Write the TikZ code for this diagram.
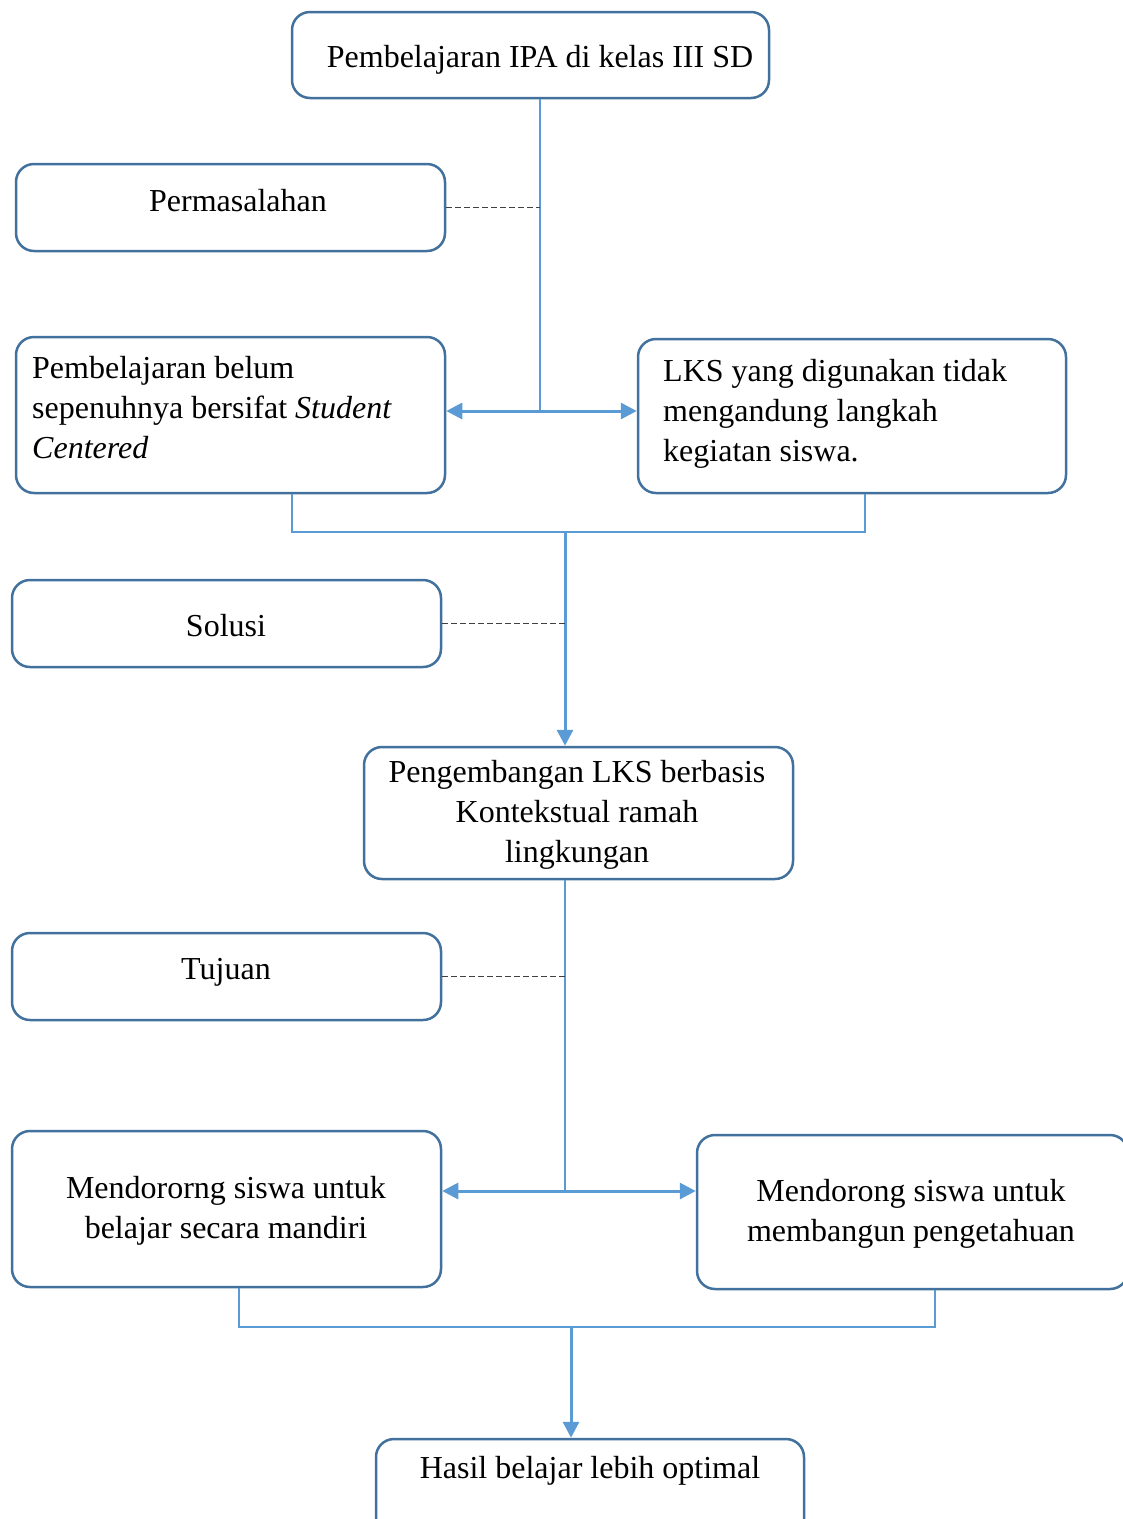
\documentclass[tikz,border=0pt]{standalone}
\usepackage{fontspec}
\setmainfont{Liberation Serif}
\usetikzlibrary{arrows.meta}
\definecolor{boxblue}{HTML}{41719C}
\definecolor{lineblue}{HTML}{5B9BD5}
\definecolor{dashgray}{HTML}{404040}
\tikzset{
  box/.style={draw=boxblue, line width=2.5pt, rounded corners=18pt, inner sep=0pt, fill=white},
  txt/.style={font=\fontsize{32}{40}\selectfont, inner sep=0pt},
  thinline/.style={draw=lineblue, line width=1.2pt},
  thickarrow/.style={draw=lineblue, line width=3pt, -{Triangle[length=16pt,width=16pt]}},
  dbarrow/.style={draw=lineblue, line width=3pt, {Triangle[length=16pt,width=16pt]}-{Triangle[length=16pt,width=16pt]}},
  dashline/.style={draw=dashgray, line width=1.2pt, dash pattern=on 6pt off 3pt}
}
\begin{document}
\begin{tikzpicture}[x=1pt,y=-1pt]
\useasboundingbox (0,0) rectangle (1123,1519);
\clip (0,0) rectangle (1123,1519);
% junction coordinates
\coordinate (j1) at (540,411);
\coordinate (b1) at (292,532);
\coordinate (b2) at (865,532);
\coordinate (j2) at (565,532);
\coordinate (j3) at (565,1191);
\coordinate (b3) at (239,1327);
\coordinate (b4) at (935,1327);
\coordinate (j4) at (571,1327);
% boxes
\node[box, minimum width=477pt, minimum height=86pt] (top) at (530.5,55) {};
\node[box, minimum width=429pt, minimum height=87pt] (perm) at (230.5,207.5) {};
\node[box, minimum width=429pt, minimum height=156pt] (belum) at (230.5,415) {};
\node[box, minimum width=428pt, minimum height=154pt] (lks) at (852,416) {};
\node[box, minimum width=429pt, minimum height=87pt] (solusi) at (226.5,623.5) {};
\node[box, minimum width=429pt, minimum height=132pt] (peng) at (578.5,813) {};
\node[box, minimum width=429pt, minimum height=87pt] (tujuan) at (226.5,976.5) {};
\node[box, minimum width=429pt, minimum height=156pt] (mandiri) at (226.5,1209) {};
\node[box, minimum width=431pt, minimum height=154pt] (bangun) at (912.5,1212) {};
\node[box, minimum width=428pt, minimum height=101pt] (hasil) at (590,1489.5) {};
% texts
\node[txt] (ttop) at (540,60) {Pembelajaran IPA di kelas III SD};
\node[txt] (tperm) at (238,201) {Permasalahan};
\node[txt, anchor=west, align=left] (tbelum) at (32,408) {Pembelajaran belum\\sepenuhnya bersifat \textit{Student}\\\textit{Centered}};
\node[txt, anchor=west, align=left] (tlks) at (663,414) {LKS yang digunakan tidak\\mengandung langkah\\kegiatan siswa.};
\node[txt] (tsolusi) at (226,626) {Solusi};
\node[txt, align=center] (tpeng) at (577,815) {Pengembangan LKS berbasis\\Kontekstual ramah\\lingkungan};
\node[txt] (ttujuan) at (226,972) {Tujuan};
\node[txt, align=center] (tmandiri) at (226,1211) {Mendororng siswa untuk\\belajar secara mandiri};
\node[txt, align=center] (tbangun) at (911,1214) {Mendorong siswa untuk\\membangun pengetahuan};
\node[txt] (thasil) at (590,1471) {Hasil belajar lebih optimal};
% connectors
\draw[thinline] (top.south -| j1) -- (j1);
\draw[dashline] (perm.east) -- (perm.east -| j1);
\draw[dbarrow] (belum.east |- j1) -- (lks.west |- j1);
\draw[thinline] (belum.south -| b1) |- (b2) -- (lks.south -| b2);
\draw[thickarrow] (j2) -- (peng.north -| j2);
\draw[dashline] (solusi.east) -- (solusi.east -| j2);
\draw[thinline] (peng.south -| j3) -- (j3);
\draw[dashline] (tujuan.east) -- (tujuan.east -| j3);
\draw[dbarrow] (mandiri.east |- j3) -- (bangun.west |- j3);
\draw[thinline] (mandiri.south -| b3) |- (b4) -- (bangun.south -| b4);
\draw[thickarrow] (j4) -- (hasil.north -| j4);
\end{tikzpicture}
\end{document}
